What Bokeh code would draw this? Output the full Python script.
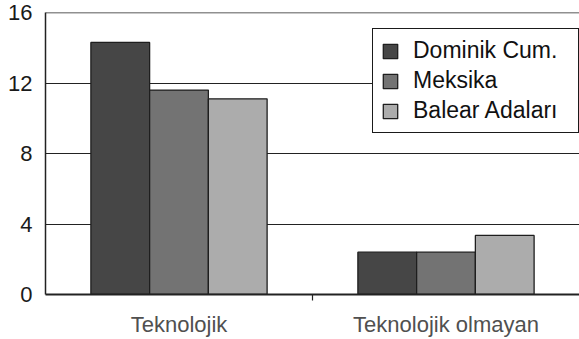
from bokeh.plotting import figure
from bokeh.models import (ColumnDataSource, Range1d, FixedTicker, Legend, LegendItem, Span)
from bokeh.embed import file_html
from bokeh.resources import INLINE

categories = ["Teknolojik", "Teknolojik olmayan"]
series_names = ["Dominik Cum.", "Meksika", "Balear Adaları"]
dominik = [14.3, 2.4]
meksika = [11.6, 2.4]
balear = [11.1, 3.35]
y_ticks = [0, 4, 8, 12, 16]
colors = ["#464646", "#737373", "#acacac"]

series_values = [dominik, meksika, balear]

p = figure(width=579, height=339, output_backend="svg", toolbar_location=None,
           x_range=Range1d(0, len(categories)), y_range=Range1d(0, 16),
           min_border_left=45, min_border_right=0, min_border_top=12, min_border_bottom=44)
p.outline_line_color = None
p.background_fill_color = "white"
p.border_fill_color = "white"

bar_w = 0.22
offsets = [-bar_w, 0.0, bar_w]
centers = [i + 0.5 for i in range(len(categories))]
renderers = []
for name, vals, off, col in zip(series_names, series_values, offsets, colors):
    src = ColumnDataSource(dict(x=[c + off for c in centers], top=vals))
    r = p.vbar(x="x", top="top", width=bar_w, bottom=0, source=src,
               fill_color=col, line_color="#1e1e1e", line_width=1.3)
    renderers.append(r)

# x axis
p.xaxis.ticker = FixedTicker(ticks=centers, minor_ticks=[i for i in range(1, len(categories))])
p.xaxis.major_label_overrides = {c: lab for c, lab in zip(centers, categories)}
p.xaxis.major_tick_line_color = None
p.xaxis.major_tick_out = 0
p.xaxis.major_tick_in = 0
p.xaxis.minor_tick_out = 6
p.xaxis.minor_tick_in = 0
p.xaxis.minor_tick_line_color = "#222222"
p.xaxis.minor_tick_line_width = 1.2
p.xaxis.axis_line_color = "#222222"
p.xaxis.axis_line_width = 2
p.xaxis.major_label_text_font = "Liberation Sans"
p.xaxis.major_label_text_font_size = "22px"
p.xaxis.major_label_text_color = "#505050"
p.xaxis.major_label_standoff = 11
p.xgrid.grid_line_color = None

# y axis
p.yaxis.ticker = FixedTicker(ticks=y_ticks)
p.yaxis.major_tick_line_color = None
p.yaxis.major_tick_out = 0
p.yaxis.major_tick_in = 0
p.yaxis.minor_tick_line_color = None
p.yaxis.axis_line_color = "#222222"
p.yaxis.axis_line_width = 1.5
p.yaxis.major_label_text_font = "Liberation Sans"
p.yaxis.major_label_text_font_size = "22px"
p.yaxis.major_label_text_color = "#1a1a1a"
p.yaxis.major_label_standoff = 13
p.ygrid.ticker = FixedTicker(ticks=y_ticks)
p.ygrid.grid_line_color = "#222222"
p.ygrid.grid_line_width = 1.2

top_line = Span(location=16, dimension="width", line_color="#222222", line_width=1.5)
p.add_layout(top_line)

legend = Legend(items=[LegendItem(label=n, renderers=[r]) for n, r in zip(series_names, renderers)],
                location=(327, 161), orientation="vertical",
                glyph_width=18, glyph_height=18, label_height=25, label_width=157,
                label_standoff=14, spacing=3, padding=8, margin=0,
                label_text_font="Liberation Sans", label_text_font_size="23px",
                label_text_color="#111111",
                border_line_color="#1a1a1a", border_line_width=1.2, border_line_alpha=1.0,
                background_fill_color="white", background_fill_alpha=1.0)
p.add_layout(legend, "center")

open("out.html", "w").write(file_html(p, INLINE))
